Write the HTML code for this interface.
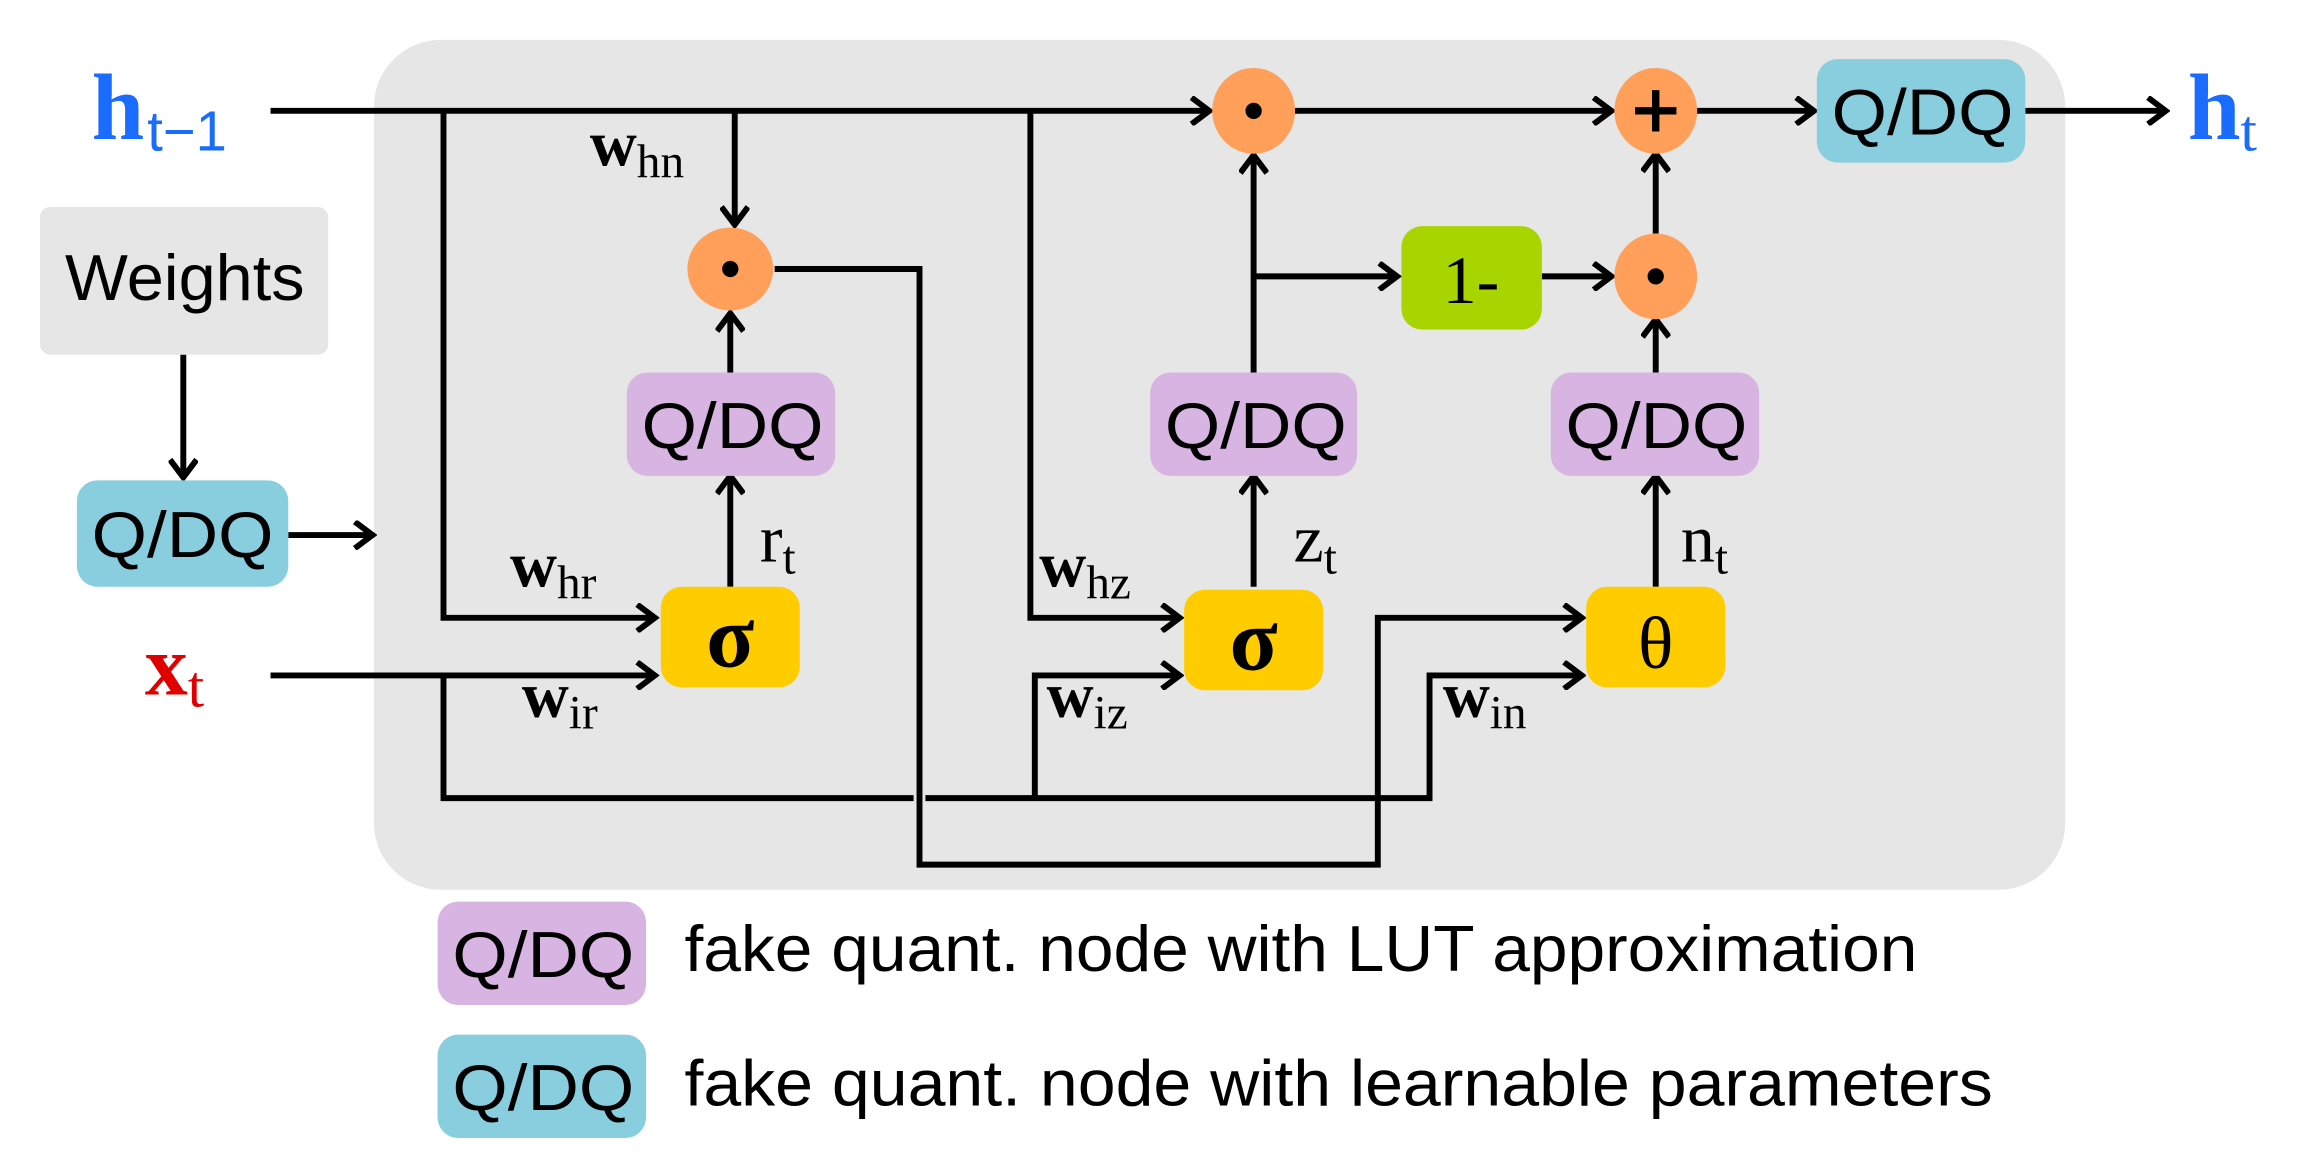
<!DOCTYPE html>
<html><head><meta charset="utf-8"><style>
html,body{margin:0;padding:0;background:#fff;}
svg{display:block;}
.q{font-family:"Liberation Sans",sans-serif;font-size:44px;fill:#000;}
.m{font-family:"Liberation Serif",serif;fill:#000;}
</style></head><body>
<svg width="2318" height="1175" viewBox="0 0 1568 795" preserveAspectRatio="none" xmlns="http://www.w3.org/2000/svg">
<defs>
<marker id="a" viewBox="0 0 20 20" refX="17" refY="10" markerWidth="20" markerHeight="20" markerUnits="userSpaceOnUse" orient="auto">
<path d="M5,1 L17,10 L5,19" fill="none" stroke="#000" stroke-width="4"/>
</marker>
</defs>
<rect x="253" y="27" width="1144" height="575" rx="45" fill="#e6e6e6"/>
<rect x="27" y="140" width="195" height="100" rx="7" fill="#e6e6e6"/>
<text x="44" y="203" class="q" font-size="44" textLength="162" lengthAdjust="spacingAndGlyphs">Weights</text>

<g stroke="#000" stroke-width="4" fill="none">
<path d="M124,240 V323" marker-end="url(#a)"/>
<path d="M195,362 H252" marker-end="url(#a)"/>
<path d="M183,75 H818" marker-end="url(#a)"/>
<path d="M300,75 V418 H443" marker-end="url(#a)"/>
<path d="M497,75 V152" marker-end="url(#a)"/>
<path d="M697,75 V418 H798" marker-end="url(#a)"/>
<path d="M876,75 H1090" marker-end="url(#a)"/>
<path d="M1148,75 H1227" marker-end="url(#a)"/>
<path d="M1370,75 H1465" marker-end="url(#a)"/>
<path d="M183,457 H443" marker-end="url(#a)"/>
<path d="M300,457 V540 H618 M626,540 H967 V457 H1070" marker-end="url(#a)"/>
<path d="M700,540 V457 H798" marker-end="url(#a)"/>
<path d="M494,397 V322" marker-end="url(#a)"/>
<path d="M494,252 V212" marker-end="url(#a)"/>
<path d="M524,182 H622 V585 H932 V418 H1070" marker-end="url(#a)"/>
<path d="M848,397 V322" marker-end="url(#a)"/>
<path d="M848,252 V105" marker-end="url(#a)"/>
<path d="M848,187 H945" marker-end="url(#a)"/>
<path d="M1043,187 H1090" marker-end="url(#a)"/>
<path d="M1120,397 V322" marker-end="url(#a)"/>
<path d="M1120,252 V216" marker-end="url(#a)"/>
<path d="M1120,158 V104" marker-end="url(#a)"/>
</g>

<ellipse cx="494" cy="182" rx="29" ry="28" fill="#ff9f5a"/>
<circle cx="494" cy="182" r="5.5" fill="#000"/>
<ellipse cx="848" cy="75" rx="28" ry="29" fill="#ff9f5a"/>
<circle cx="848" cy="75" r="5.5" fill="#000"/>
<ellipse cx="1120" cy="75" rx="28" ry="29" fill="#ff9f5a"/>
<path d="M1120,61 V89 M1106,75 H1134" stroke="#000" stroke-width="5"/>
<ellipse cx="1120" cy="187" rx="28" ry="29" fill="#ff9f5a"/>
<circle cx="1120" cy="187" r="5.5" fill="#000"/>

<rect x="52" y="325" width="143" height="72" rx="14" fill="#89cede"/>
<text x="62" y="377" class="q" textLength="123" lengthAdjust="spacingAndGlyphs">Q/DQ</text>
<rect x="1229" y="40" width="141" height="70" rx="14" fill="#89cede"/>
<text x="1239" y="91" class="q" textLength="123" lengthAdjust="spacingAndGlyphs">Q/DQ</text>
<rect x="424" y="252" width="141" height="70" rx="14" fill="#d8b4e2"/>
<text x="434" y="303" class="q" textLength="123" lengthAdjust="spacingAndGlyphs">Q/DQ</text>
<rect x="778" y="252" width="140" height="70" rx="14" fill="#d8b4e2"/>
<text x="788" y="303" class="q" textLength="123" lengthAdjust="spacingAndGlyphs">Q/DQ</text>
<rect x="1049" y="252" width="141" height="70" rx="14" fill="#d8b4e2"/>
<text x="1059" y="303" class="q" textLength="123" lengthAdjust="spacingAndGlyphs">Q/DQ</text>
<rect x="948" y="153" width="95" height="70" rx="14" fill="#a8d400"/>
<text x="995" y="205" class="m" font-size="46" text-anchor="middle">1-</text>
<rect x="447" y="397" width="94" height="68" rx="14" fill="#ffcc00"/>
<text x="494" y="451" class="m" font-size="60" font-weight="bold" text-anchor="middle">σ</text>
<rect x="801" y="399" width="94" height="68" rx="14" fill="#ffcc00"/>
<text x="848" y="453" class="m" font-size="60" font-weight="bold" text-anchor="middle">σ</text>
<rect x="1073" y="397" width="94" height="68" rx="14" fill="#ffcc00"/>
<text x="1120" y="452" class="m" font-size="50" text-anchor="middle">θ</text>

<text x="62" y="94" class="m" font-size="64" font-weight="bold" style="fill:#1a6cff">h<tspan font-family="Liberation Sans,sans-serif" font-size="38" font-weight="normal" dx="2" dy="8">t−1</tspan></text>
<text x="1480" y="94" class="m" font-size="64" font-weight="bold" style="fill:#1a6cff">h<tspan font-size="40" font-weight="normal" dy="8">t</tspan></text>
<text x="98" y="470" class="m" font-size="58" font-weight="bold" style="fill:#e00000">x<tspan font-size="40" font-weight="normal" dy="8">t</tspan></text>
<text x="399" y="112" class="m" font-size="44" font-weight="bold">w<tspan font-size="32" font-weight="normal" dy="8">hn</tspan></text>
<text x="345" y="397" class="m" font-size="44" font-weight="bold">w<tspan font-size="32" font-weight="normal" dy="8">hr</tspan></text>
<text x="353" y="485" class="m" font-size="44" font-weight="bold">w<tspan font-size="32" font-weight="normal" dy="8">ir</tspan></text>
<text x="703" y="397" class="m" font-size="44" font-weight="bold">w<tspan font-size="32" font-weight="normal" dy="8">hz</tspan></text>
<text x="708" y="485" class="m" font-size="44" font-weight="bold">w<tspan font-size="32" font-weight="normal" dy="8">iz</tspan></text>
<text x="976" y="485" class="m" font-size="44" font-weight="bold">w<tspan font-size="32" font-weight="normal" dy="8">in</tspan></text>
<text x="514" y="380" class="m" font-size="46">r<tspan font-size="32" dy="8">t</tspan></text>
<text x="875" y="380" class="m" font-size="46">z<tspan font-size="32" dy="8">t</tspan></text>
<text x="1137" y="380" class="m" font-size="46">n<tspan font-size="32" dy="8">t</tspan></text>

<rect x="296" y="610" width="141" height="70" rx="14" fill="#d8b4e2"/>
<text x="306" y="661" class="q" textLength="123" lengthAdjust="spacingAndGlyphs">Q/DQ</text>
<text x="463" y="657" class="q" font-size="44" textLength="834" lengthAdjust="spacingAndGlyphs">fake quant. node with LUT approximation</text>
<rect x="296" y="700" width="141" height="70" rx="14" fill="#89cede"/>
<text x="306" y="751" class="q" textLength="123" lengthAdjust="spacingAndGlyphs">Q/DQ</text>
<text x="463" y="748" class="q" font-size="44" textLength="885" lengthAdjust="spacingAndGlyphs">fake quant. node with learnable parameters</text>
</svg>
</body></html>
